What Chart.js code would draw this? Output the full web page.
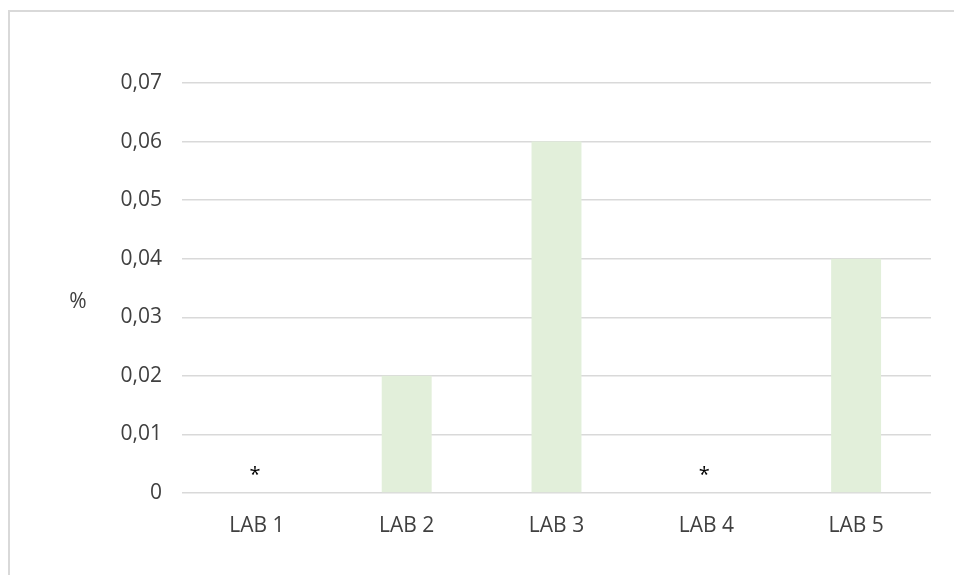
<!DOCTYPE html>
<html>
<head>
<meta charset="utf-8">
<script src="https://cdn.jsdelivr.net/npm/chart.js@4/dist/chart.umd.min.js"></script>
<style>
  html, body { margin: 0; padding: 0; background: #ffffff; overflow: hidden; }
  #frame { position: absolute; left: 8px; top: 10px; width: 1000px; height: 1000px;
           border: 2px solid #d9d9d9; box-sizing: border-box; }
  #wrap { position: absolute; left: 0; top: 0; width: 954px; height: 575px; }
</style>
</head>
<body>
<div id="frame"></div>
<div id="wrap"><canvas id="chart"></canvas></div>
<script>
// Categories and measured values (null = not detected, shown with an asterisk)
const categories = ['LAB 1', 'LAB 2', 'LAB 3', 'LAB 4', 'LAB 5'];
const values = [null, 0.02, 0.06, null, 0.04];
const notes = ['*', '', '', '*', ''];
const yTickLabels = ['0', '0,01', '0,02', '0,03', '0,04', '0,05', '0,06', '0,07'];
const yAxisTitle = '%';

const FONT = '"Open Sans", "Liberation Sans", sans-serif';
const TEXT = '#404040';

// Draws the "%" axis title and the asterisk markers for missing values
const annotations = {
  id: 'annotations',
  afterDatasetsDraw(chart) {
    const { ctx, scales } = chart;
    const x = scales.x, y = scales.y;
    ctx.save();
    ctx.fillStyle = TEXT;
    ctx.font = '21px ' + FONT;
    ctx.textAlign = 'center';
    ctx.textBaseline = 'middle';
    ctx.fillText(yAxisTitle, 78, (chart.chartArea.top + chart.chartArea.bottom) / 2 + 14);
    ctx.fillStyle = '#000000';
    ctx.font = '20px ' + FONT;
    ctx.textBaseline = 'alphabetic';
    notes.forEach((n, i) => {
      if (!n) return;
      ctx.fillText(n, x.getPixelForValue(i) - 2, y.getPixelForValue(0) - 12);
    });
    ctx.restore();
  }
};

new Chart(document.getElementById('chart'), {
  type: 'bar',
  data: {
    labels: categories,
    datasets: [{
      data: values,
      backgroundColor: '#e2efda',
      borderWidth: 0,
      categoryPercentage: 1,
      barPercentage: 1 / 3
    }]
  },
  options: {
    responsive: true,
    maintainAspectRatio: false,
    animation: false,
    events: [],
    layout: { padding: { left: 0, top: 83, right: 23, bottom: 0 } },
    plugins: { legend: { display: false }, tooltip: { enabled: false } },
    scales: {
      x: {
        grid: { display: false, drawTicks: false },
        border: { display: false },
        ticks: { color: TEXT, font: { family: FONT, size: 21 }, padding: 20 },
        afterFit(s) { s.height = 82; }
      },
      y: {
        min: 0,
        max: 0.07,
        ticks: {
          stepSize: 0.01,
          color: TEXT,
          font: { family: FONT, size: 21 },
          padding: 20,
          callback: (v, i) => yTickLabels[i]
        },
        grid: { color: '#d9d9d9', lineWidth: 1.5, drawTicks: false },
        border: { display: false },
        afterFit(s) { s.width = 182; }
      }
    }
  },
  plugins: [annotations]
});
</script>
</body>
</html>
